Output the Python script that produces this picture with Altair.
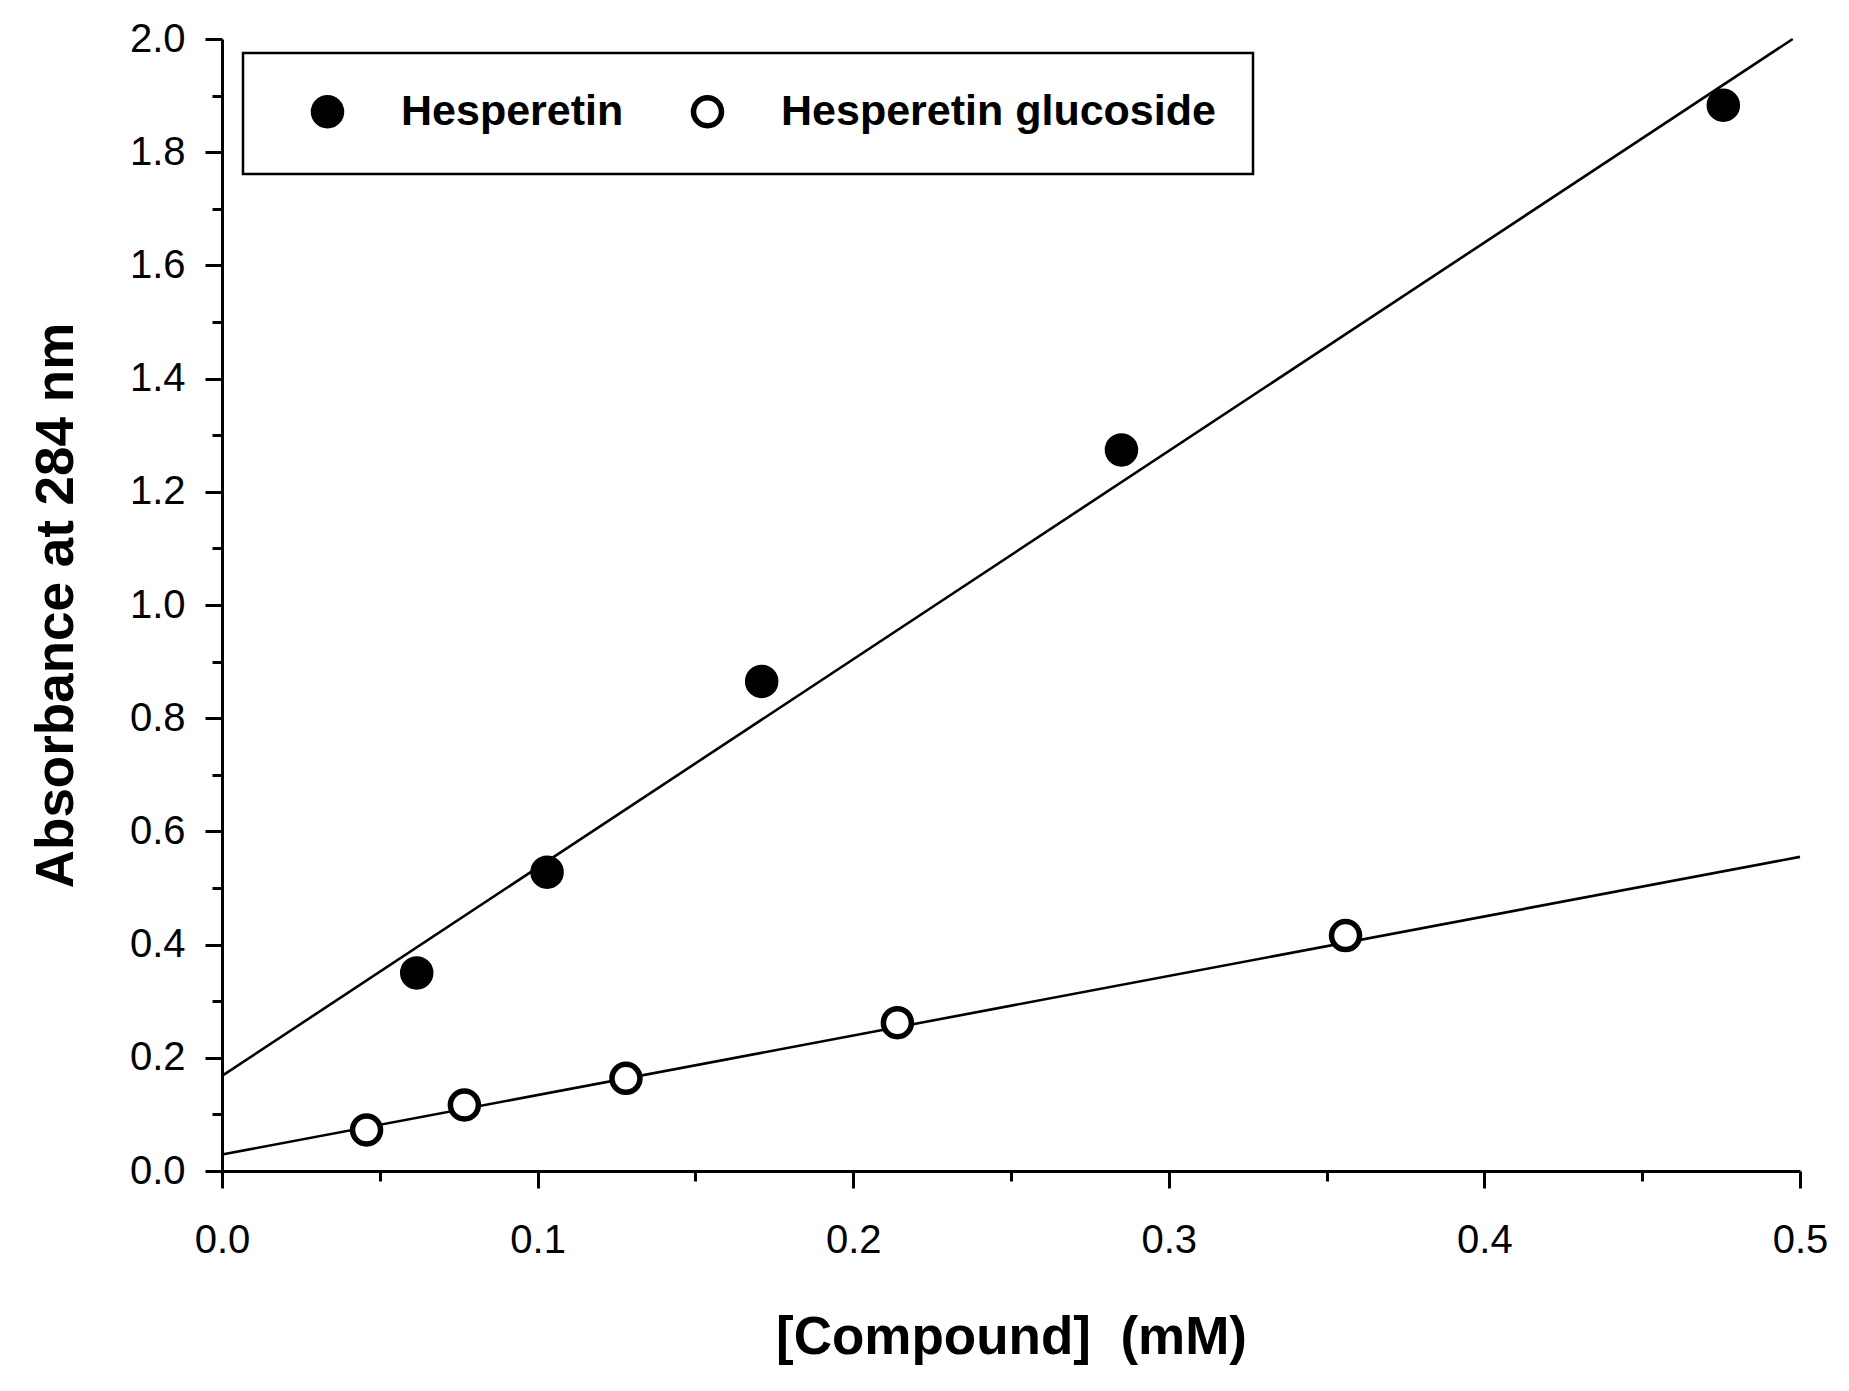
import altair as alt
import pandas as pd

# Measured points
hes_x = [0.0617, 0.103, 0.171, 0.285, 0.4757]
hes_y = [0.350, 0.528, 0.865, 1.274, 1.883]
glu_x = [0.0458, 0.0768, 0.128, 0.214, 0.356]
glu_y = [0.0724, 0.1166, 0.1637, 0.262, 0.416]

# Fitted line endpoints
hes_line_x = [0.0, 0.4977]
hes_line_y = [0.168, 2.0]
glu_line_x = [0.0, 0.5]
glu_line_y = [0.029, 0.555]

series_names = ["Hesperetin", "Hesperetin glucoside"]
x_ticks = [0.0, 0.05, 0.1, 0.15, 0.2, 0.25, 0.3, 0.35, 0.4, 0.45, 0.5]
y_ticks = [0.0, 0.1, 0.2, 0.3, 0.4, 0.5, 0.6, 0.7, 0.8, 0.9, 1.0,
           1.1, 1.2, 1.3, 1.4, 1.5, 1.6, 1.7, 1.8, 1.9, 2.0]

pts = pd.DataFrame(
    {"x": hes_x + glu_x,
     "y": hes_y + glu_y,
     "series": [series_names[0]] * len(hes_x) + [series_names[1]] * len(glu_x)}
)
lines = pd.DataFrame(
    {"x": hes_line_x + glu_line_x,
     "y": hes_line_y + glu_line_y,
     "series": [series_names[0]] * 2 + [series_names[1]] * 2}
)

FONT = "Liberation Sans"

xscale = alt.Scale(domain=[0, 0.5], nice=False, zero=True)
yscale = alt.Scale(domain=[0, 2.0], nice=False, zero=True)

xaxis = alt.Axis(
    values=x_ticks,
    labelExpr="round(datum.value*100) % 10 == 0 ? format(datum.value, '.1f') : ''",
    tickSize={"condition": {"test": "round(datum.value*100) % 10 == 0", "value": 17}, "value": 10},
    labelPadding=32,
    labelFontSize=40,
    labelFont=FONT,
    labelColor="black",
    title="[Compound]\u00a0 (mM)",
    titleFont=FONT,
    titleFontSize=53,
    titleFontWeight="bold",
    titleColor="black",
    titleX=789,
    titleY=182,
    titleBaseline="alphabetic",
    titleAlign="center",
    grid=False,
    labelFlush=False,
    labelOverlap=False,
)
yaxis = alt.Axis(
    values=y_ticks,
    labelExpr="round(datum.value*10) % 2 == 0 ? format(datum.value, '.1f') : ''",
    tickSize={"condition": {"test": "round(datum.value*10) % 2 == 0", "value": 17}, "value": 10},
    labelPadding=20,
    labelFontSize=40,
    labelFont=FONT,
    labelColor="black",
    title="Absorbance at 284 nm",
    titleFont=FONT,
    titleFontSize=53,
    titleFontWeight="bold",
    titleColor="black",
    titleAngle=-90,
    titleX=-150,
    titleY=566,
    titleBaseline="alphabetic",
    titleAlign="center",
    grid=False,
    labelFlush=False,
    labelOverlap=False,
)

line_layer = alt.Chart(lines).mark_line(color="black", strokeWidth=2.6).encode(
    x=alt.X("x:Q", scale=xscale, axis=xaxis),
    y=alt.Y("y:Q", scale=yscale, axis=yaxis),
    detail="series:N",
)

point_layer = alt.Chart(pts).mark_point(
    shape="circle", size=784, filled=True, stroke="black", strokeWidth=5.5, opacity=1
).encode(
    x=alt.X("x:Q", scale=xscale),
    y=alt.Y("y:Q", scale=yscale),
    fill=alt.Fill(
        "series:N",
        scale=alt.Scale(domain=series_names, range=["black", "white"]),
        legend=alt.Legend(
            orient="none",
            legendX=21,
            legendY=14,
            direction="horizontal",
            title=None,
            labelFont=FONT,
            labelFontSize=43,
            labelFontWeight="bold",
            labelColor="black",
            labelLimit=1000,
            symbolType="circle",
            symbolSize=784,
            symbolStrokeWidth=5.5,
            symbolStrokeColor="black",
            symbolOpacity=1,
            strokeColor="black",
            padding=37,
            symbolOffset=26,
            labelOffset=52,
            columnPadding=36,
        ),
    ),
)

chart = (
    alt.layer(line_layer, point_layer)
    .properties(
        width=1578,
        height=1132,
        autosize=alt.AutoSizeParams(type="none"),
        padding={"left": 214, "top": 31, "right": 40, "bottom": 200},
        background="white",
    )
    .configure_view(stroke=None)
    .configure_axis(
        domainColor="black",
        domainWidth=3,
        tickColor="black",
        tickWidth=3,
    )
    .configure_legend(strokeWidth=2.5)
)

chart.save("out.html", embed_options={"renderer": "svg", "actions": False})
